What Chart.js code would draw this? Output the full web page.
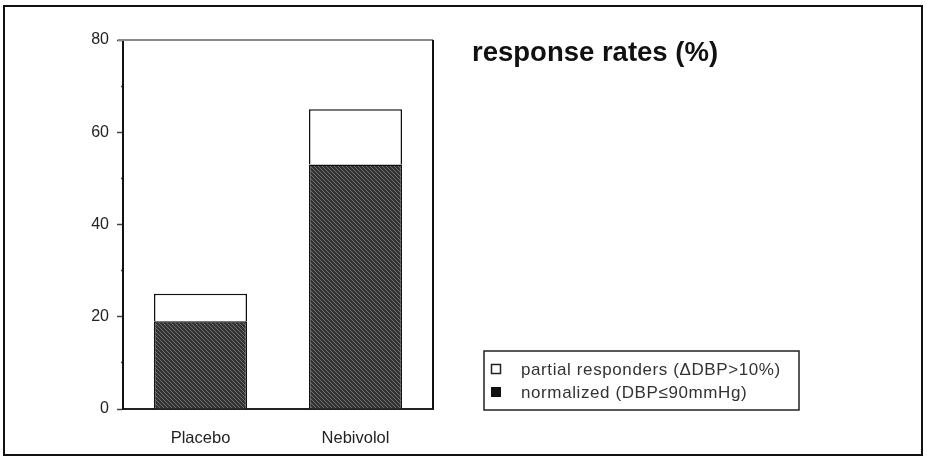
<!DOCTYPE html>
<html>
<head>
<meta charset="utf-8">
<script src="https://cdn.jsdelivr.net/npm/chart.js@4/dist/chart.umd.min.js"></script>
<style>
    html, body { margin: 0; padding: 0; background: #fff; }
    #wrap { position: relative; width: 927px; height: 467px; }
</style>
</head>
<body>
<div id="wrap"><canvas id="chart" width="927" height="467"></canvas></div>
<script>
// Data
// ======================
var categories   = ['Placebo', 'Nebivolol'];
var normalized   = [19, 53];
var partial      = [6, 12];
var yLabelTicks  = [0, 20, 40, 60, 80];
var seriesNames  = ['normalized (DBP\u226490mmHg)', 'partial responders (\u0394DBP>10%)'];
var titleText    = 'response rates (%)';

var FONT = "'Liberation Sans', Arial, sans-serif";

// diagonal hatch used for the dark bars
function makeHatch() {
    var c = document.createElement('canvas');
    c.width = 4; c.height = 4;
    var g = c.getContext('2d');
    var img = g.createImageData(4, 4);
    for (var y = 0; y < 4; y++) {
        for (var x = 0; x < 4; x++) {
            var light = ((x - y + 8) % 4) === 0;
            var v = light ? 0x6e : 0x33;
            var i = (y * 4 + x) * 4;
            img.data[i] = v; img.data[i + 1] = v; img.data[i + 2] = v; img.data[i + 3] = 255;
        }
    }
    g.putImageData(img, 0, 0);
    return document.getElementById('chart').getContext('2d').createPattern(c, 'repeat');
}

var hatch = makeHatch();

// frame, title and legend are drawn on the same canvas
var decorations = {
    id: 'decorations',
    afterDraw: function (chart) {
        var ctx = chart.ctx, a = chart.chartArea;
        ctx.save();

        // outer page frame
        ctx.strokeStyle = '#111';
        ctx.lineWidth = 2;
        ctx.strokeRect(4, 6, 918, 449);

        // top and right side of the plot box
        ctx.beginPath();
        ctx.strokeStyle = '#8a8a8a';
        ctx.moveTo(118, a.top); ctx.lineTo(a.right, a.top);
        ctx.stroke();
        ctx.beginPath();
        ctx.strokeStyle = '#111';
        ctx.moveTo(a.right, a.top); ctx.lineTo(a.right, a.bottom);
        ctx.stroke();

        // title
        ctx.fillStyle = '#111';
        ctx.font = 'bold 27.5px ' + FONT;
        ctx.textBaseline = 'middle';
        ctx.textAlign = 'left';
        ctx.fillText(titleText, 472, 53);

        // legend box
        ctx.lineWidth = 1.5;
        ctx.strokeStyle = '#222';
        ctx.strokeRect(484, 351, 315, 59);

        ctx.font = '17px ' + FONT;
        ctx.letterSpacing = '0.6px';
        ctx.fillStyle = '#333';
        var ds = chart.data.datasets;
        for (var k = ds.length - 1, row = 0; k >= 0; k--, row++) {
            var cy = 369 + row * 23;
            if (ds[k].legendFill) {
                ctx.fillStyle = '#111';
                ctx.fillRect(491, cy - 5, 10, 10);
            } else {
                ctx.strokeStyle = '#222';
                ctx.lineWidth = 1.5;
                ctx.strokeRect(491.5, cy - 4.5, 9, 9);
            }
            ctx.fillStyle = '#333';
            ctx.fillText(ds[k].label, 521, cy + 1);
        }
        ctx.restore();
    }
};

new Chart(document.getElementById('chart'), {
    type: 'bar',
    data: {
        labels: categories,
        datasets: [
            {
                label: seriesNames[0]
                , data: normalized
                , backgroundColor: hatch
                , borderColor: '#111'
                , borderWidth: 1.5
                , legendFill: true
            }
            , {
                label: seriesNames[1]
                , data: partial
                , backgroundColor: '#fff'
                , borderColor: '#111'
                , borderWidth: 1.5
                , legendFill: false
            }
        ]
    },
    options: {
        responsive: false,
        animation: false,
        barPercentage: 0.6,
        categoryPercentage: 1,
        layout: { padding: { left: 0, top: 40, right: 494, bottom: 0 } },
        plugins: {
            legend: { display: false },
            title: { display: false },
            tooltip: { enabled: false }
        },
        scales: {
            x: {
                stacked: true,
                grid: { display: false },
                border: { display: true, color: '#222', width: 2 },
                ticks: { padding: 12, color: '#222', font: { family: FONT, size: 16.5 } },
                afterFit: function (scale) { scale.height = 58; }
            },
            y: {
                stacked: true,
                min: 0,
                max: 80,
                grid: {
                    drawOnChartArea: false,
                    drawTicks: true,
                    tickLength: 6,
                    tickWidth: 1.5,
                    tickColor: '#444',
                    // minor ticks only show as a short stub on the axis
                    tickBorderDash: function (c) {
                        return c.tick && c.tick.value % 20 === 0 ? [] : [0, 4, 2];
                    }
                },
                border: { display: true, color: '#111', width: 2 },
                ticks: {
                    stepSize: 10,
                    autoSkip: false,
                    padding: 8,
                    color: '#222',
                    font: { family: FONT, size: 16 },
                    callback: function (v) { return yLabelTicks.indexOf(v) >= 0 ? v : ''; }
                },
                afterFit: function (scale) { scale.width = 123; }
            }
        }
    },
    plugins: [decorations]
});
</script>
</body>
</html>
